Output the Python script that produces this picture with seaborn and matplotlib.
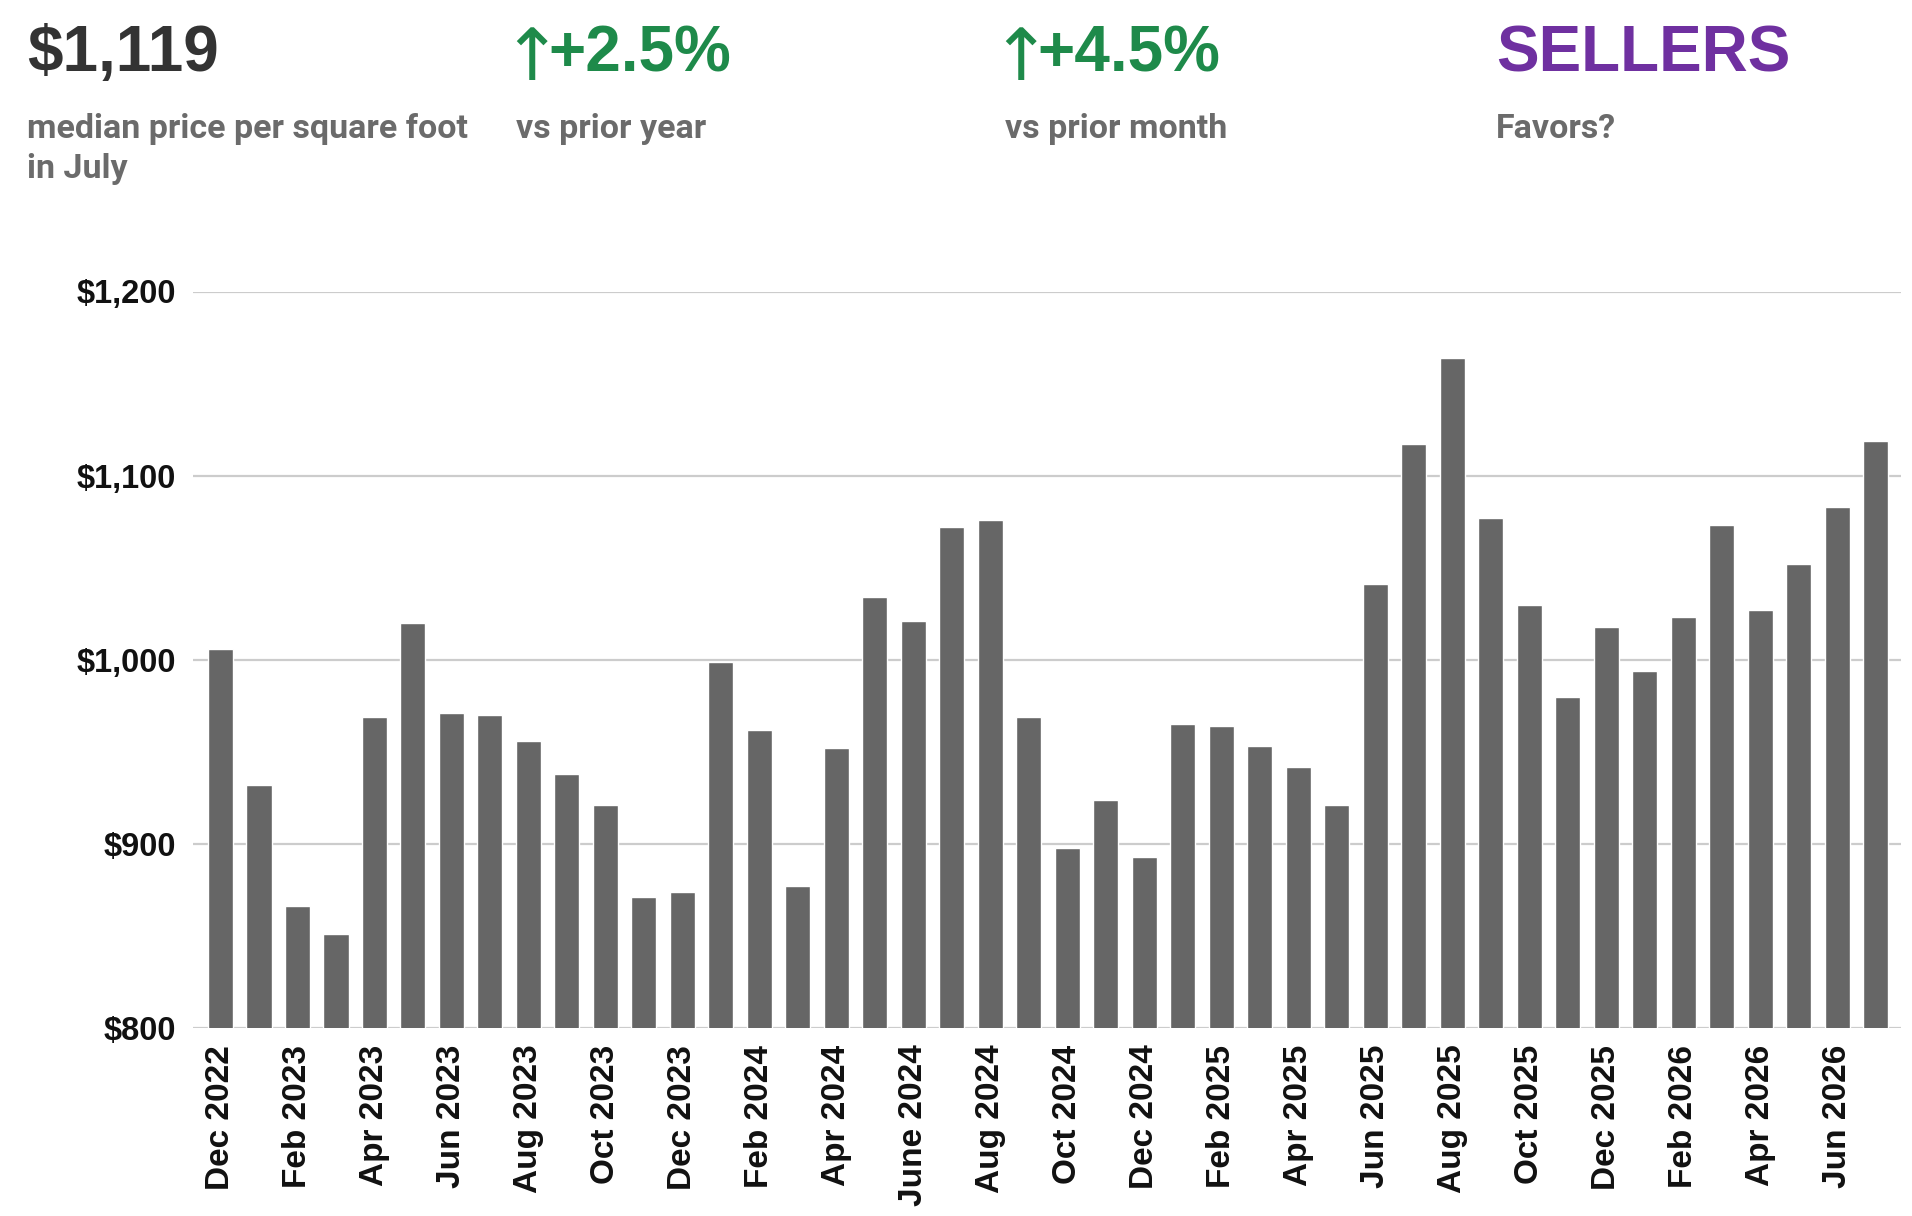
import matplotlib
matplotlib.use("Agg")
import matplotlib.pyplot as plt
from matplotlib import font_manager
import pandas as pd
import seaborn as sns

# Chart data
months = [
    "Dec 2022", "Jan 2023", "Feb 2023", "Mar 2023", "Apr 2023", "May 2023",
    "Jun 2023", "Jul 2023", "Aug 2023", "Sep 2023", "Oct 2023", "Nov 2023",
    "Dec 2023", "Jan 2024", "Feb 2024", "Mar 2024", "Apr 2024", "May 2024",
    "June 2024", "Jul 2024", "Aug 2024", "Sep 2024", "Oct 2024", "Nov 2024",
    "Dec 2024", "Jan 2025", "Feb 2025", "Mar 2025", "Apr 2025", "May 2025",
    "Jun 2025", "Jul 2025", "Aug 2025", "Sep 2025", "Oct 2025", "Nov 2025",
    "Dec 2025", "Jan 2026", "Feb 2026", "Mar 2026", "Apr 2026", "May 2026",
    "Jun 2026", "Jul 2026",
]
price_sqft = [
    1006, 932, 866, 851, 969, 1020, 971, 970, 956, 938, 921, 871,
    874, 999, 962, 877, 952, 1034, 1021, 1072, 1076, 969, 898, 924,
    893, 965, 964, 953, 942, 921, 1041, 1117, 1164, 1077, 1030, 980,
    1018, 994, 1023, 1073, 1027, 1052, 1083, 1119,
]
tick_labels = months[::2]
y_ticks = [800, 900, 1000, 1100, 1200]

# Header stats
headline = ["$1,119", "+2.5%", "+4.5%", "SELLERS"]
has_arrow = [False, True, True, False]
sublines = [["median price per square foot", "in July"], ["vs prior year"],
            ["vs prior month"], ["Favors?"]]
head_colors = ["#333333", "#1e8a4a", "#1e8a4a", "#6f30a0"]

df = pd.DataFrame({"month": months, "price": price_sqft})

installed = {f.name for f in font_manager.fontManager.ttflist}
narrow = "Liberation Sans Narrow" if "Liberation Sans Narrow" in installed else "Roboto"
sub_size = 28 if narrow == "Liberation Sans Narrow" else 24.5
base = "Liberation Sans"

sns.set_style("white")
plt.rcParams["font.family"] = [base, "DejaVu Sans"]

fig = plt.figure(figsize=(19.12, 12.16), dpi=100)
ax = fig.add_axes([193 / 1912, 1 - 1028 / 1216, (1901 - 193) / 1912, (1028 - 291.5) / 1216])

sns.barplot(data=df, x="month", y="price", color="#666666", saturation=1,
            width=0.65, ax=ax, zorder=3)

ax.set_ylim(800, 1200)
ax.set_xlim(-0.714, 43.65)
ax.set_yticks(y_ticks)
ax.set_yticklabels([f"${v:,}" for v in y_ticks], fontsize=23.5, fontweight="bold", color="#111111")
ax.set_xticks(range(0, len(months), 2))
ax.set_xticklabels(tick_labels, rotation=90, fontsize=24, fontweight="bold", color="#111111")
ax.tick_params(axis="x", length=0, pad=12)
ax.tick_params(axis="y", length=0, pad=12)
ax.set_xlabel("")
ax.set_ylabel("")
ax.grid(axis="y", color="#cccccc", linewidth=1.6, zorder=0)
ax.set_axisbelow(True)
for s in ax.spines.values():
    s.set_visible(False)

# Header row
col_x = [27, 516, 1005, 1496]
for x, big, arrow, lines, c in zip(col_x, headline, has_arrow, sublines, head_colors):
    tx = x
    if arrow:
        fig.text((x - 15) / 1912, 1 - 80 / 1216, "\u2191", fontsize=52, color=c,
                 family=["DejaVu Sans"], va="baseline", ha="left")
        tx = x + 32
    fig.text(tx / 1912, 1 - 71 / 1216, big, fontsize=46, fontweight="bold", color=c,
             family=[base, "DejaVu Sans"], va="baseline", ha="left")
    for i, line in enumerate(lines):
        fig.text(x / 1912, 1 - (138 + 40 * i) / 1216, line, fontsize=sub_size,
                 fontweight="bold", color="#6b6b6b",
                 family=[narrow, "DejaVu Sans"], va="baseline", ha="left")

fig.savefig("out.png", dpi=100, facecolor="white")
